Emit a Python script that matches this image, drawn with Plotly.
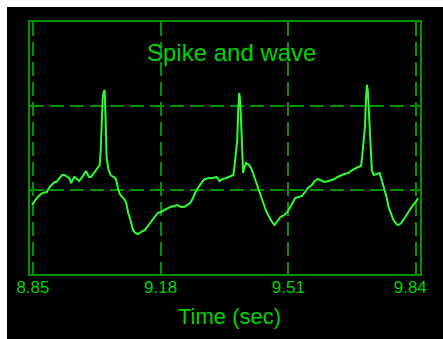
import plotly.graph_objects as go

# waveform samples (time in s, amplitude in grid units)
px_x = [32,35,37,40,43,47,50,55,57,60,63,65,68,70,72,75,78,80,84,87,90,92,95,99,101,102,104,105,106,107,108,110,112,115,117,118,120,122,124,126,128,130,132,135,137,140,143,147,150,153,157,160,163,167,170,173,177,180,184,187,190,193,196,198,201,203,206,208,211,213,216,220,223,226,230,233,237,238,239,241,242,243,244,245,246,247,248,250,253,255,257,260,262,265,268,270,273,275,277,279,282,285,289,292,295,297,300,303,307,310,313,317,320,323,327,330,334,337,340,343,347,350,354,358,362,367,368,369,371,372,373,374,375,376,377,378,380,383,386,388,390,393,395,398,400,403,405,408,410,413,417,420,424,425]
px_y = [205,200,198,195,193,192,187,182,182,178,175,175,177,178,183,177,179,181,176,171,177,177,173,168,165,150,98,92,90,120,158,170,175,177,178,181,190,195,197,199,203,213,219,230,233,234,232,230,226,222,217,213,212,210,209,207,206,205,207,207,205,203,198,193,188,185,181,179,178,178,178,177,181,179,178,177,175,168,158,140,110,93,100,130,150,173,168,163,165,168,173,182,188,197,205,210,216,220,223,225,221,217,215,212,207,203,198,197,196,192,188,185,181,179,181,182,181,180,179,177,175,174,173,170,168,166,158,147,127,100,85,92,110,140,155,170,175,174,173,180,187,197,207,215,220,224,225,223,220,215,210,205,200,198]

time_s = [round(8.85 + (x - 33) / 390 * 0.99, 4) for x in px_x]
amplitude = [round((274 - y) / 84, 3) for y in px_y]

tick_vals = [8.85, 9.18, 9.51, 9.84]
tick_text = ["8.85", "9.18", "9.51", "9.84"]
# last label nudged left so it stays inside the figure area
label_pos = tick_vals[:-1] + [tick_vals[-1] - 0.015]

GRID = "#009400"
TEXT = "#00d400"
LINE = "#2cff2c"
FONT = "Liberation Sans"
X_RANGE = [8.8424, 9.8502]

fig = go.Figure()
fig.add_trace(go.Scatter(x=time_s, y=amplitude, mode="lines",
                         line=dict(color=LINE, width=2), hoverinfo="skip"))

OFF = 8  # default page body margin
W, H = 443 - 2 * OFF, 339 - 2 * OFF
L, T = 30 - OFF, 22 - OFF
R = W - (427 - OFF)
B = H - (274 - OFF)
pw, ph = W - L - R, H - T - B

fig.update_layout(
    width=W, height=H,
    margin=dict(l=L, r=R, t=T, b=B),
    paper_bgcolor="black", plot_bgcolor="black",
    showlegend=False,
    font=dict(family=FONT, color=TEXT),
    xaxis=dict(range=X_RANGE, tickvals=tick_vals, showticklabels=False,
               showgrid=True, gridcolor=GRID, griddash="14px,6px", gridwidth=2,
               showline=True, linecolor=GRID, linewidth=2, mirror=True,
               ticks="", zeroline=False, fixedrange=True),
    xaxis2=dict(range=X_RANGE, overlaying="x", anchor="y", side="bottom",
                tickvals=label_pos, ticktext=tick_text,
                showgrid=False, showline=False, zeroline=False,
                ticks="", ticklabelstandoff=1,
                tickfont=dict(size=17, color=TEXT, family=FONT),
                fixedrange=True),
    yaxis=dict(range=[0, 3], tickvals=[1, 2], showticklabels=False,
               showgrid=True, gridcolor=GRID, griddash="14px,6px", gridwidth=2,
               showline=True, linecolor=GRID, linewidth=2, mirror=True,
               ticks="", zeroline=False, fixedrange=True),
    annotations=[
        dict(text="Spike and wave", xref="paper", yref="paper",
             x=(235.5 - OFF - L) / pw, y=(T + ph - (52 - OFF)) / ph, showarrow=False,
             xanchor="center", yanchor="middle",
             font=dict(size=24, color=TEXT, family=FONT)),
        dict(text="Time (sec)", xref="paper", yref="paper",
             x=(233 - OFF - L) / pw, y=(T + ph - (316 - OFF)) / ph, showarrow=False,
             xanchor="center", yanchor="middle",
             font=dict(size=22, color=TEXT, family=FONT)),
    ],
)
# invisible trace so the label axis is drawn
fig.add_trace(go.Scatter(x=[tick_vals[0]], y=[None], xaxis="x2", mode="lines",
                         showlegend=False, hoverinfo="skip"))

fig.write_html(
    "out.html",
    config={"displayModeBar": False, "staticPlot": True},
    post_script="document.body.style.background="
                "'linear-gradient(to right,#fff 7px,transparent 7px),"
                "linear-gradient(#fff 7px,#000 7px)';",
)
